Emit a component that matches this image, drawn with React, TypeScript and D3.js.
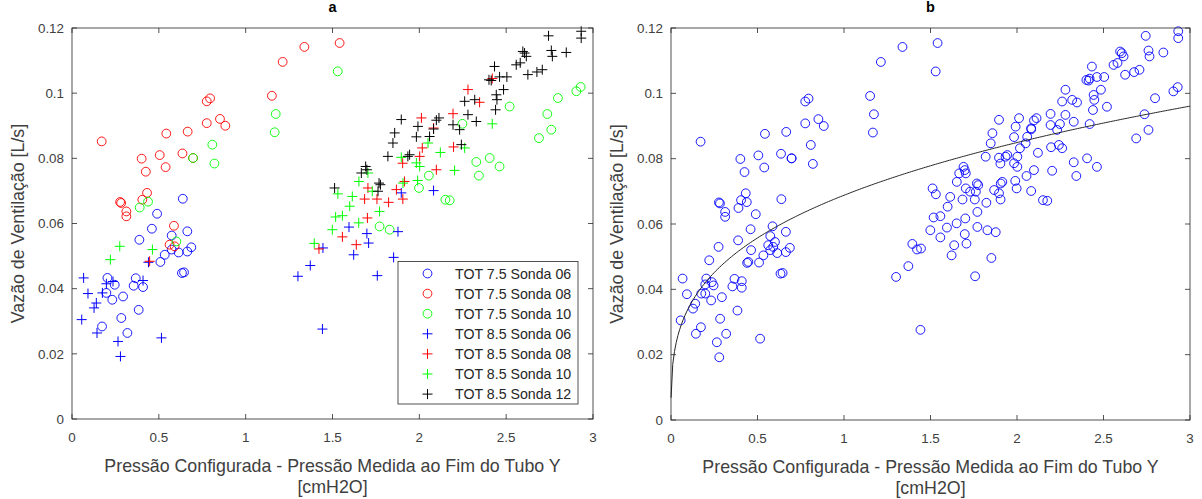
import React from "react";
import * as d3 from "d3";

type P = [number, number];

const seriesNames = [
  "TOT 7.5 Sonda 06",
  "TOT 7.5 Sonda 08",
  "TOT 7.5 Sonda 10",
  "TOT 8.5 Sonda 06",
  "TOT 8.5 Sonda 08",
  "TOT 8.5 Sonda 10",
  "TOT 8.5 Sonda 12",
];

const tot75s06: P[] = [
  [0.638, 0.0676], [0.49, 0.063], [0.46, 0.0584], [0.388, 0.055], [0.574, 0.0563], [0.664, 0.0576],
  [0.687, 0.0527], [0.664, 0.0514], [0.614, 0.0511], [0.574, 0.052], [0.534, 0.0504], [0.509, 0.0482],
  [0.633, 0.0448], [0.645, 0.045], [0.204, 0.0433], [0.246, 0.0412], [0.367, 0.0432], [0.355, 0.0409],
  [0.409, 0.0405], [0.198, 0.0387], [0.232, 0.0366], [0.294, 0.0376], [0.384, 0.0335], [0.284, 0.031],
  [0.173, 0.0284], [0.319, 0.0264],
];

const tot75s08: P[] = [
  [0.171, 0.0852], [0.401, 0.0799], [0.425, 0.0759], [0.505, 0.081], [0.539, 0.0773], [0.543, 0.0876],
  [0.636, 0.0815], [0.666, 0.0882], [0.697, 0.0801], [0.776, 0.0908], [0.776, 0.0975], [0.795, 0.0984],
  [0.852, 0.0921], [0.883, 0.09], [1.151, 0.0992], [1.213, 0.1096], [1.338, 0.1142], [1.541, 0.1154],
  [0.432, 0.0694], [0.405, 0.0673], [0.277, 0.0666], [0.283, 0.0663], [0.313, 0.0637], [0.313, 0.0622],
  [0.587, 0.0593], [0.562, 0.0535], [0.591, 0.053],
];

const tot75s10: P[] = [
  [1.53, 0.1067], [1.173, 0.0936], [1.167, 0.088], [0.808, 0.0842], [0.82, 0.0784], [0.697, 0.0801],
  [0.438, 0.0667], [0.39, 0.0649], [0.601, 0.0545], [2.52, 0.0959], [2.798, 0.0985], [2.904, 0.1006],
  [2.929, 0.1019], [2.737, 0.0936], [2.76, 0.0888], [2.689, 0.0862], [2.248, 0.0906], [2.328, 0.0789],
  [2.405, 0.0801], [2.462, 0.0775], [2.343, 0.0747], [2.055, 0.0747], [1.998, 0.0709], [2.15, 0.0673],
  [2.175, 0.0671], [1.771, 0.0591], [1.829, 0.0581],
];

const tot85s06: P[] = [
  [0.067, 0.0433], [0.092, 0.0385], [0.127, 0.0341], [0.14, 0.0356], [0.175, 0.0387], [0.198, 0.0415],
  [0.236, 0.0422], [0.056, 0.0305], [0.144, 0.0264], [0.265, 0.0238], [0.279, 0.0192], [0.515, 0.0249],
  [0.409, 0.0425], [0.44, 0.0481], [1.301, 0.0438], [1.372, 0.0471], [1.445, 0.0525], [1.622, 0.0504],
  [1.708, 0.054], [1.698, 0.0569], [1.852, 0.0496], [1.758, 0.044], [1.442, 0.0276], [1.877, 0.0575],
  [1.595, 0.0589], [1.896, 0.0694], [2.082, 0.0701],
];

const tot85s08: P[] = [
  [0.447, 0.0484], [1.422, 0.0522], [1.557, 0.0559], [1.637, 0.0535], [1.701, 0.0617], [1.756, 0.0675],
  [1.685, 0.0675], [1.704, 0.0709], [1.823, 0.0665], [1.868, 0.0704], [1.905, 0.0675], [1.915, 0.0729],
  [1.904, 0.0785], [2.002, 0.0806], [2.017, 0.0832], [2.098, 0.0765], [2.197, 0.0835], [2.194, 0.0937],
  [2.012, 0.0924], [2.082, 0.0893], [2.28, 0.1011], [2.347, 0.0972], [2.42, 0.1045],
];

const tot85s10: P[] = [
  [0.275, 0.053], [0.221, 0.0489], [0.463, 0.052], [1.395, 0.0539], [1.499, 0.0581], [1.518, 0.062],
  [1.557, 0.0624], [1.599, 0.0653], [1.651, 0.0602], [1.771, 0.0637], [1.531, 0.0691], [1.614, 0.0683],
  [1.652, 0.0729], [1.704, 0.0755], [1.729, 0.0699], [1.896, 0.0803], [1.983, 0.0786], [2.002, 0.0775],
  [1.99, 0.0732], [1.906, 0.0724], [2.121, 0.0818], [2.203, 0.0763], [2.05, 0.0847], [2.261, 0.0832],
  [2.42, 0.0906],
];

const tot85s12: P[] = [
  [1.512, 0.0709], [1.691, 0.0775], [1.698, 0.0765], [1.666, 0.0755], [1.768, 0.0724], [1.776, 0.0719],
  [1.762, 0.0699], [1.819, 0.0806], [1.848, 0.0847], [1.858, 0.0878], [1.896, 0.0919], [1.934, 0.0806],
  [1.944, 0.0811], [1.983, 0.0866], [1.992, 0.0898], [2.059, 0.0867], [2.082, 0.089], [2.098, 0.0917],
  [2.113, 0.0924], [2.194, 0.0903], [2.232, 0.0888], [2.242, 0.0842], [2.28, 0.0934], [2.328, 0.0913],
  [2.261, 0.0975], [2.319, 0.098], [2.439, 0.0949], [2.443, 0.0995], [2.447, 0.098], [2.485, 0.1011],
  [2.401, 0.1041], [2.414, 0.1039], [2.433, 0.1082], [2.462, 0.105], [2.504, 0.105], [2.558, 0.1087],
  [2.581, 0.1093], [2.596, 0.1128], [2.606, 0.1123], [2.616, 0.1113], [2.625, 0.1057], [2.677, 0.1065],
  [2.708, 0.1072], [2.76, 0.1131], [2.766, 0.1113], [2.846, 0.1125], [2.744, 0.1176], [2.932, 0.119],
  [2.932, 0.1169],
];

const seriesData: P[][] = [tot75s06, tot75s08, tot75s10, tot85s06, tot85s08, tot85s10, tot85s12];
const seriesMarker = ["o", "o", "o", "+", "+", "+", "+"];
const seriesColor = ["#0000ff", "#ff0000", "#00ff00", "#0000ff", "#ff0000", "#00ff00", "#000000"];

const xTicks = [0, 0.5, 1, 1.5, 2, 2.5, 3];
const yTicks = [0, 0.02, 0.04, 0.06, 0.08, 0.1, 0.12];

// power-law fit y = a * x^b (panel b)
const fitA = 0.0688;
const fitB = 0.304;

const FONT = "'Liberation Sans', Arial, Helvetica, sans-serif";
const AX = "#262626";
const LBL = "#404040";

function Marker({ kind, x, y, color }: { kind: string; x: number; y: number; color: string }) {
  if (kind === "o") {
    return <circle cx={x} cy={y} r={4.4} fill="none" stroke={color} strokeWidth={0.9} />;
  }
  const h = 5;
  return (
    <path d={`M${x - h},${y}H${x + h}M${x},${y - h}V${y + h}`} stroke={color} strokeWidth={1} fill="none" />
  );
}

function Axes({
  left, right, top, bottom, title, children,
}: { left: number; right: number; top: number; bottom: number; title: string; children: (x: d3.ScaleLinear<number, number>, y: d3.ScaleLinear<number, number>) => React.ReactNode }) {
  const x = d3.scaleLinear().domain([0, 3]).range([left, right]);
  const y = d3.scaleLinear().domain([0, 0.12]).range([bottom, top]);
  const tl = 5;
  const cx = (left + right) / 2;
  const cy = (top + bottom) / 2;
  return (
    <g fontFamily={FONT}>
      <rect x={left} y={top} width={right - left} height={bottom - top} fill="#fff" />
      {children(x, y)}
      <rect x={left} y={top} width={right - left} height={bottom - top} fill="none" stroke={AX} strokeWidth={0.8} />
      {xTicks.map((t) => (
        <g key={"x" + t}>
          <line x1={x(t)} x2={x(t)} y1={bottom} y2={bottom - tl} stroke={AX} strokeWidth={0.8} />
          <line x1={x(t)} x2={x(t)} y1={top} y2={top + tl} stroke={AX} strokeWidth={0.8} />
          <text x={x(t)} y={bottom + 23} textAnchor="middle" fontSize={13.4} fill={LBL}>
            {d3.format("~g")(t)}
          </text>
        </g>
      ))}
      {yTicks.map((t) => (
        <g key={"y" + t}>
          <line x1={left} x2={left + tl} y1={y(t)} y2={y(t)} stroke={AX} strokeWidth={0.8} />
          <line x1={right} x2={right - tl} y1={y(t)} y2={y(t)} stroke={AX} strokeWidth={0.8} />
          <text x={left - 8} y={y(t) + 4.8} textAnchor="end" fontSize={13.4} fill={LBL}>
            {d3.format("~g")(t)}
          </text>
        </g>
      ))}
      <text x={cx} y={top - 16} textAnchor="middle" fontSize={14.5} fontWeight="bold" fill="#000">
        {title}
      </text>
      <text x={cx} y={bottom + 53} textAnchor="middle" fontSize={17.8} fill={LBL}>
        Pressão Configurada - Pressão Medida ao Fim do Tubo Y
      </text>
      <text x={cx} y={bottom + 74} textAnchor="middle" fontSize={17.8} fill={LBL}>
        [cmH2O]
      </text>
      <text
        transform={`translate(${left - 48},${cy}) rotate(-90)`}
        textAnchor="middle"
        fontSize={17.8}
        fill={LBL}
      >
        Vazão de Ventilação [L/s]
      </text>
    </g>
  );
}

export default function App() {
  const allPoints: P[] = seriesData.flat();
  const fitXs = d3.range(0, 3.0001, 0.01).map((v) => Math.max(v, 0.0005));
  return (
    <svg
      width={1202}
      height={499}
      style={{ position: "absolute", left: 0, top: 0, background: "#fff" }}
    >
      <rect width={1202} height={499} fill="#fff" />
      <Axes left={72} right={593} top={28} bottom={419} title="a">
        {(x, y) => (
          <g>
            {seriesData.map((s, i) =>
              s.map((p, j) => (
                <Marker key={i + "-" + j} kind={seriesMarker[i]} x={x(p[0])} y={y(p[1])} color={seriesColor[i]} />
              ))
            )}
            <g>
              <rect x={398} y={261.5} width={180} height={142.5} fill="#fff" stroke={AX} strokeWidth={0.8} />
              {seriesNames.map((n, i) => (
                <g key={n}>
                  <Marker kind={seriesMarker[i]} x={427.5} y={273.5 + i * 20.1} color={seriesColor[i]} />
                  <text x={455} y={273.5 + i * 20.1 + 5} fontSize={14.2} fill="#262626">
                    {n}
                  </text>
                </g>
              ))}
            </g>
          </g>
        )}
      </Axes>
      <Axes left={671} right={1190} top={28} bottom={420} title="b">
        {(x, y) => {
          const line = d3
            .line<number>()
            .x((v) => x(v))
            .y((v) => y(fitA * Math.pow(v, fitB)))
            .curve(d3.curveLinear);
          return (
            <g>
              {allPoints.map((p, j) => (
                <Marker key={"b" + j} kind="o" x={x(p[0])} y={y(p[1])} color="#0000ff" />
              ))}
              <path d={line(fitXs) || ""} fill="none" stroke="#262626" strokeWidth={1} />
            </g>
          );
        }}
      </Axes>
    </svg>
  );
}
